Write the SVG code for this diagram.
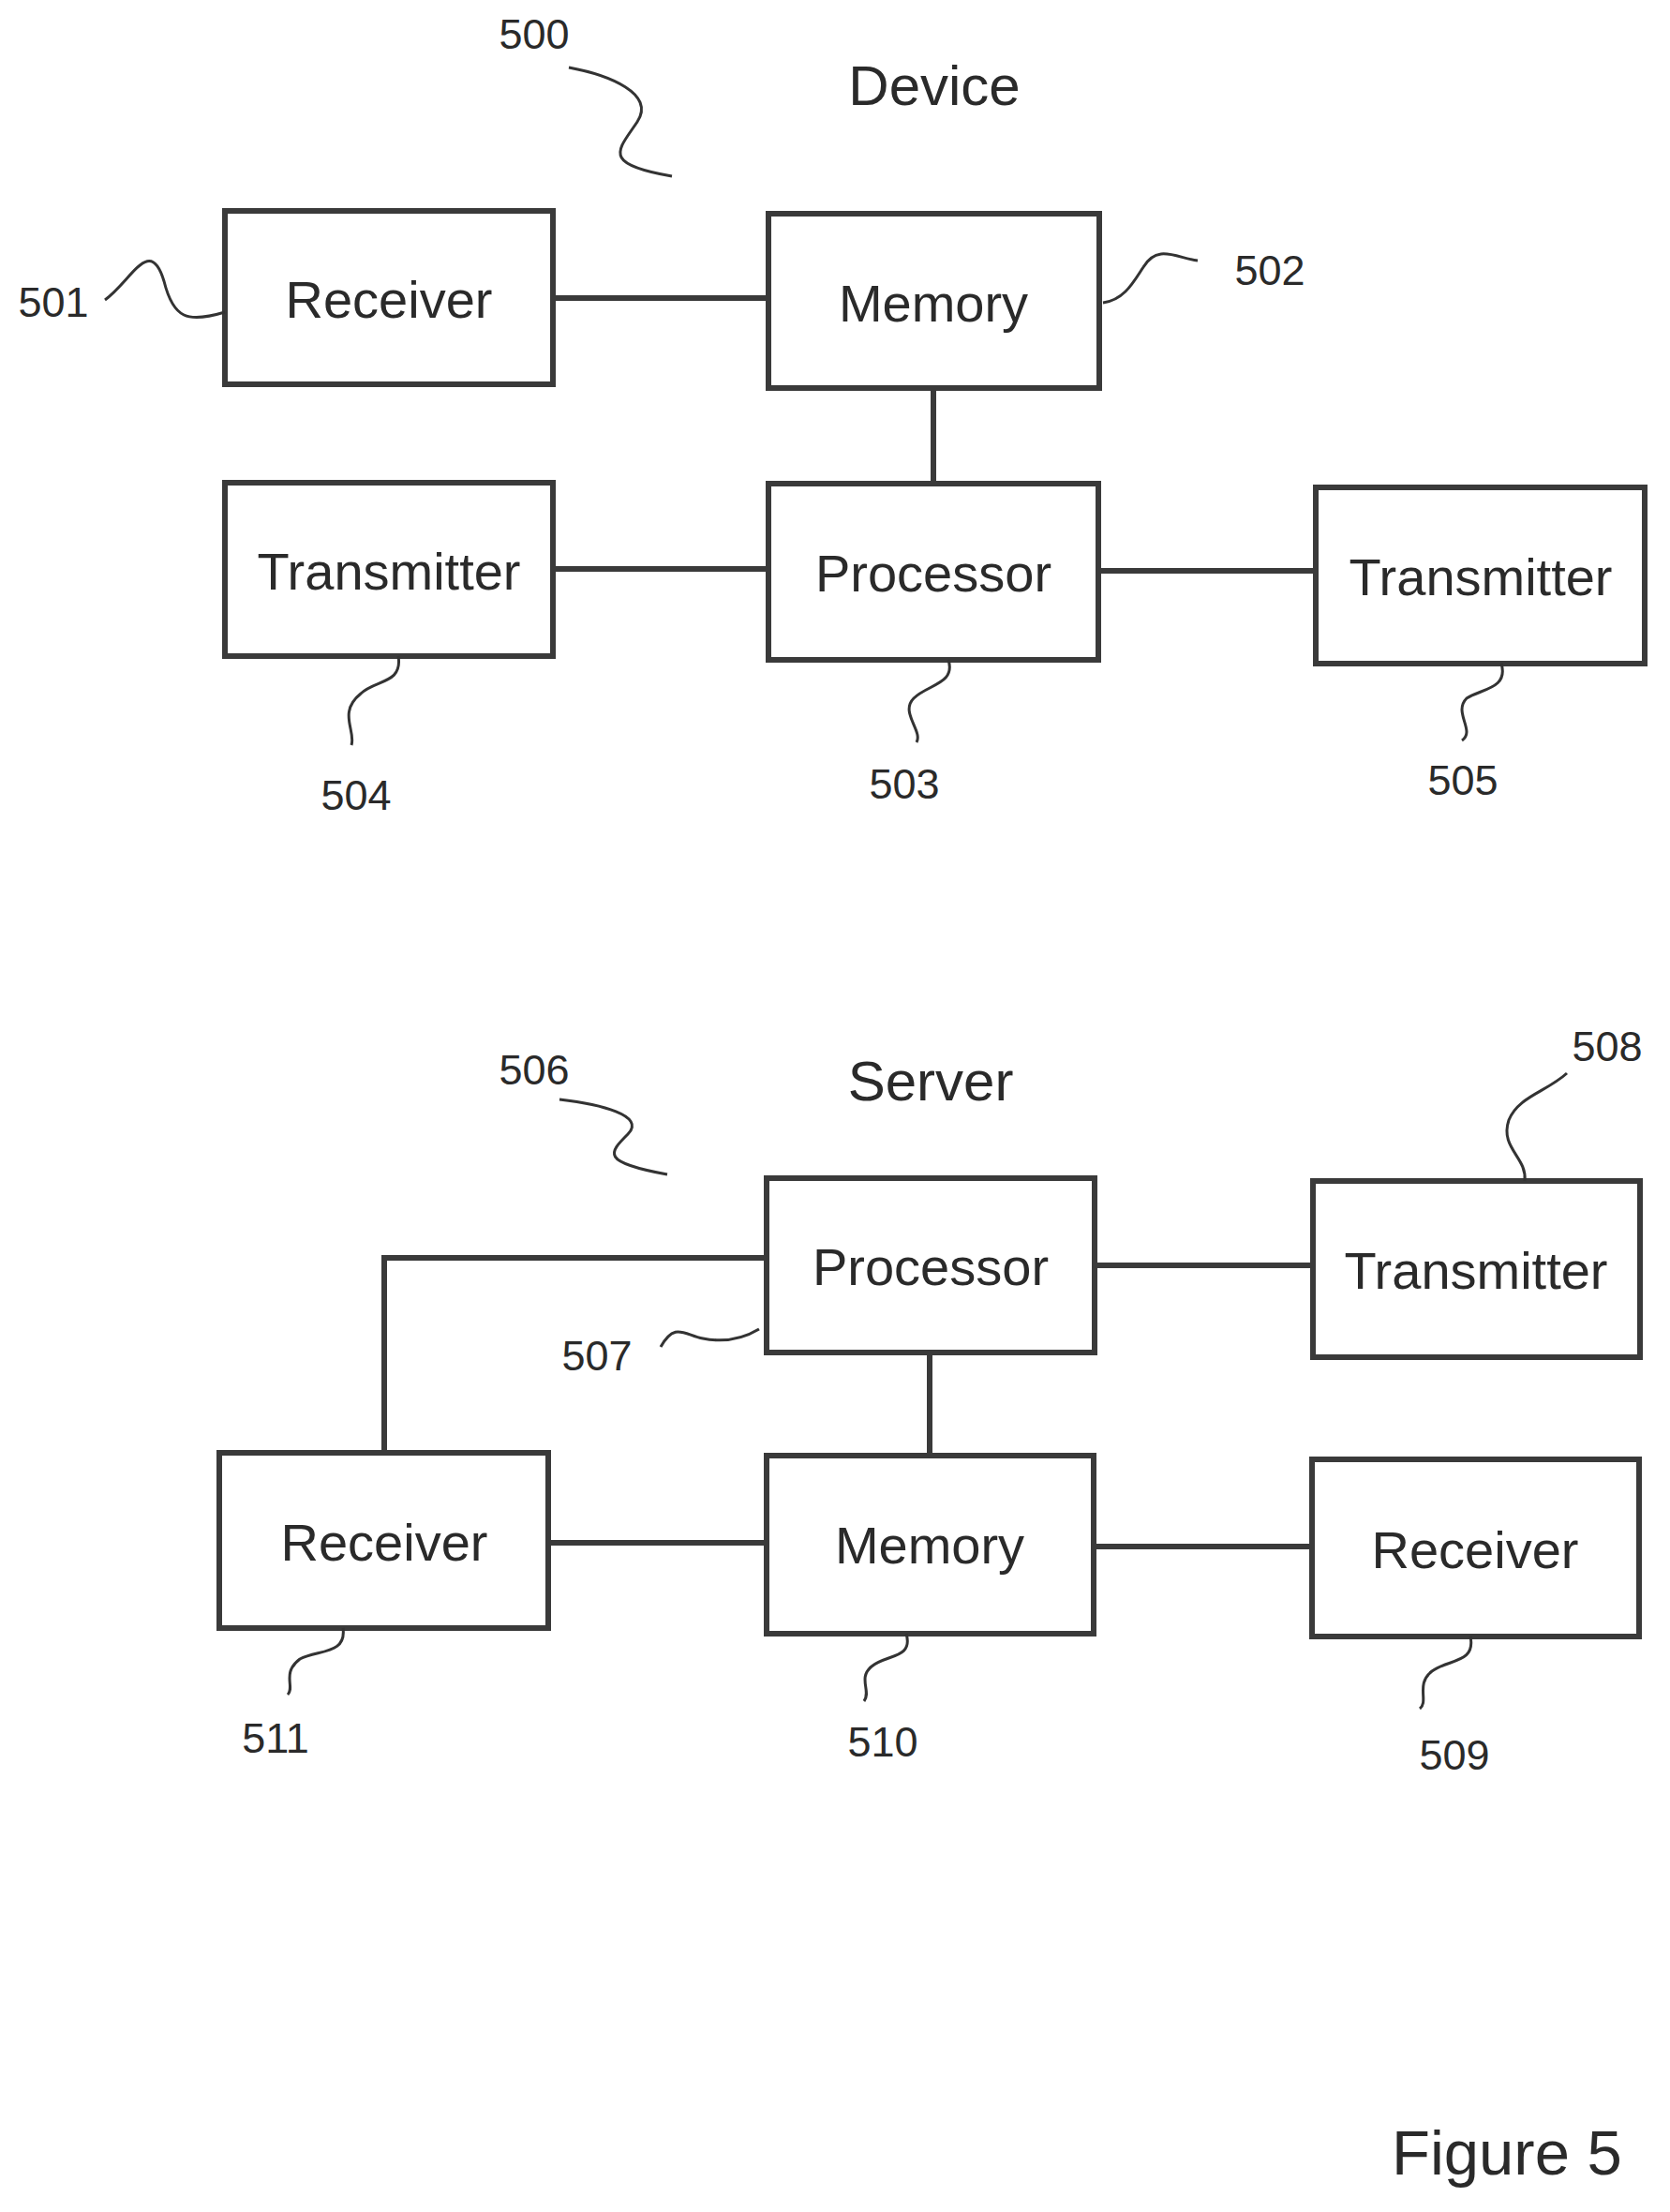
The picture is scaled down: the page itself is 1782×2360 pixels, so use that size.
<svg xmlns="http://www.w3.org/2000/svg" width="1782" height="2360" viewBox="0 0 1782 2360">
<style>
.b{fill:#fff;stroke:#3a3a3a;stroke-width:6}
.l{fill:none;stroke:#3a3a3a;stroke-width:6}
.s{fill:none;stroke:#333;stroke-width:3}
text{font-family:"Liberation Sans",Arial,sans-serif;fill:#2a2a2a}
.t{font-size:56px;text-anchor:middle}
.h{font-size:60px;text-anchor:middle}
.n{font-size:45px;text-anchor:middle}
</style>
<rect width="1782" height="2360" fill="#fff"/>
<g id="connectors">
<line class="l" x1="590" y1="318" x2="820" y2="318"/>
<line class="l" x1="996" y1="414" x2="996" y2="516"/>
<line class="l" x1="590" y1="607" x2="820" y2="607"/>
<line class="l" x1="1172" y1="609" x2="1404" y2="609"/>
<line class="l" x1="1168" y1="1350" x2="1401" y2="1350"/>
<line class="l" x1="992" y1="1443" x2="992" y2="1553"/>
<line class="l" x1="585" y1="1646" x2="818" y2="1646"/>
<line class="l" x1="1167" y1="1650" x2="1400" y2="1650"/>
<polyline class="l" points="818,1342 410,1342 410,1550"/>
</g>
<g id="n501"><rect class="b" x="240" y="225" width="350" height="185"/><text class="t" x="415" y="339">Receiver</text></g>
<g id="n502"><rect class="b" x="820" y="228" width="353" height="186"/><text class="t" x="996" y="343">Memory</text></g>
<g id="n504"><rect class="b" x="240" y="515" width="350" height="185"/><text class="t" x="415" y="629">Transmitter</text></g>
<g id="n503"><rect class="b" x="820" y="516" width="352" height="188"/><text class="t" x="996" y="631">Processor</text></g>
<g id="n505"><rect class="b" x="1404" y="520" width="351" height="188"/><text class="t" x="1580" y="635">Transmitter</text></g>
<g id="n507"><rect class="b" x="818" y="1257" width="350" height="186"/><text class="t" x="993" y="1371">Processor</text></g>
<g id="n508"><rect class="b" x="1401" y="1260" width="349" height="188"/><text class="t" x="1575" y="1375">Transmitter</text></g>
<g id="n511"><rect class="b" x="234" y="1550" width="351" height="187"/><text class="t" x="410" y="1665">Receiver</text></g>
<g id="n510"><rect class="b" x="818" y="1553" width="349" height="190"/><text class="t" x="992" y="1668">Memory</text></g>
<g id="n509"><rect class="b" x="1400" y="1557" width="349" height="189"/><text class="t" x="1574" y="1673">Receiver</text></g>
<g id="labels">
<text class="h" x="997" y="112">Device</text>
<text class="h" x="993" y="1174">Server</text>
<text class="n" x="570" y="52">500</text>
<text class="n" x="57" y="338">501</text>
<text class="n" x="1355" y="304">502</text>
<text class="n" x="380" y="864">504</text>
<text class="n" x="965" y="852">503</text>
<text class="n" x="1561" y="848">505</text>
<text class="n" x="570" y="1157">506</text>
<text class="n" x="1715" y="1132">508</text>
<text class="n" x="637" y="1462">507</text>
<text class="n" x="294" y="1870">511</text>
<text class="n" x="942" y="1874">510</text>
<text class="n" x="1552" y="1888">509</text>
<text x="1485" y="2320" style="font-size:67px">Figure 5</text>
</g>
<g id="squiggles">
<path class="s" d="M607 72 C650 80 700 100 680 130 C660 160 640 175 717 188"/>
<path class="s" d="M112 320 C140 300 160 250 175 300 C185 340 200 345 240 333"/>
<path class="s" d="M1177 323 C1200 320 1210 300 1220 285 C1235 260 1255 275 1278 278"/>
<path class="s" d="M425 700 C430 730 400 725 385 740 C360 760 380 780 375 795"/>
<path class="s" d="M1012 704 C1020 730 990 730 975 745 C960 760 985 780 978 792"/>
<path class="s" d="M1602 708 C1610 735 1580 735 1565 745 C1550 760 1575 780 1560 790"/>
<path class="s" d="M597 1173 C640 1178 690 1190 670 1210 C650 1230 640 1240 712 1253"/>
<path class="s" d="M1627 1260 C1630 1235 1600 1225 1610 1195 C1620 1170 1650 1165 1672 1145"/>
<path class="s" d="M810 1418 C790 1430 770 1432 750 1428 C730 1424 720 1410 705 1437"/>
<path class="s" d="M366 1737 C370 1765 340 1760 320 1770 C300 1785 315 1800 307 1808"/>
<path class="s" d="M967 1743 C975 1770 945 1765 930 1778 C915 1790 930 1805 922 1815"/>
<path class="s" d="M1569 1746 C1575 1775 1545 1770 1528 1783 C1510 1797 1525 1815 1515 1823"/>
</g>
</svg>
